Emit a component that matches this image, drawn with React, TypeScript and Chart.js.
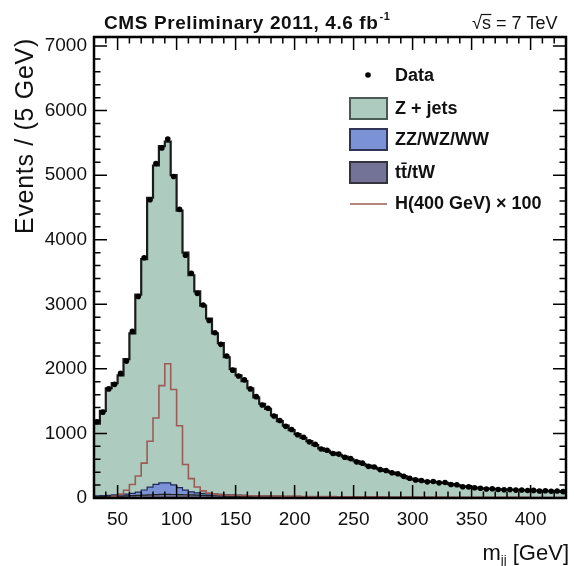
import React, { useEffect, useRef } from "react";
import { Chart, registerables } from "chart.js";

Chart.register(...registerables);

// ---- categories: 5 GeV bins from 30 to 430 GeV ----
const binEdges: number[] = Array.from({ length: 81 }, (_, i) => 30 + 5 * i);
const binCenters: number[] = binEdges.slice(0, 80).map((e) => e + 2.5);

// ---- series (events per 5 GeV bin) ----
const ttbarTW: number[] = [
  20, 22, 25, 28, 30, 33, 36, 40, 44, 48,
  52, 55, 55, 54, 52, 50, 47, 44, 41, 38,
  35, 32, 30, 28, 26, 24, 22, 20, 19, 18,
  17, 16, 15, 14, 13, 12, 11, 10, 10, 9,
  9, 8, 8, 7, 7, 6, 6, 6, 5, 5,
  5, 5, 4, 4, 4, 4, 4, 3, 3, 3,
  3, 3, 3, 3, 2, 2, 2, 2, 2, 2,
  2, 2, 2, 2, 2, 1, 1, 1, 1, 1,
];

const diboson: number[] = [
  12, 14, 16, 19, 22, 27, 35, 50, 80, 120,
  160, 180, 178, 150, 110, 72, 48, 36, 30, 27,
  25, 23, 21, 20, 19, 18, 17, 16, 15, 14,
  13, 13, 12, 12, 11, 11, 10, 10, 9, 9,
  8, 8, 8, 7, 7, 7, 6, 6, 6, 6,
  5, 5, 5, 5, 5, 4, 4, 4, 4, 4,
  4, 4, 3, 3, 3, 3, 3, 3, 3, 3,
  2, 2, 2, 2, 2, 2, 2, 2, 2, 2,
];

const zJets: number[] = [
  1118, 1314, 1659, 1733, 1848, 2090, 2479, 3060, 3576, 4482,
  4938, 5215, 5287, 4796, 4288, 3678, 3355, 3120, 2909, 2715,
  2490, 2345, 2129, 1952, 1855, 1768, 1661, 1524, 1426, 1348,
  1250, 1161, 1093, 1024, 966, 907, 859, 800, 751, 712,
  683, 654, 624, 586, 556, 517, 488, 458, 434, 409,
  385, 360, 331, 291, 276, 257, 247, 243, 233, 228,
  208, 193, 174, 164, 155, 145, 140, 135, 130, 125,
  124, 121, 118, 114, 111, 109, 107, 105, 102, 97,
];

const dataCounts: number[] = [
  1180, 1330, 1690, 1760, 1930, 2120, 2580, 3120, 3720, 4620,
  5180, 5420, 5560, 4980, 4470, 3760, 3480, 3170, 2990, 2750,
  2560, 2380, 2200, 1980, 1890, 1830, 1690, 1570, 1440, 1390,
  1270, 1200, 1110, 1060, 980, 940, 870, 830, 760, 740,
  690, 680, 630, 610, 560, 540, 490, 480, 440, 425,
  390, 375, 335, 305, 280, 270, 250, 255, 235, 240,
  210, 205, 175, 172, 158, 152, 140, 143, 132, 128,
  130, 122, 125, 115, 118, 108, 112, 104, 108, 98,
];

const higgs400x100: number[] = [
  0, 2, 8, 25, 60, 120, 210, 340, 540, 880,
  1240, 1740, 2080, 1680, 1120, 520, 300, 170, 110, 75,
  60, 52, 46, 42, 39, 37, 35, 33, 31, 30,
  29, 28, 27, 26, 25, 24, 24, 23, 22, 22,
  21, 20, 20, 19, 19, 18, 18, 17, 17, 16,
  16, 15, 15, 15, 14, 14, 14, 13, 13, 13,
  12, 12, 12, 11, 11, 11, 10, 10, 10, 10,
  9, 9, 9, 9, 8, 8, 8, 8, 7, 7,
];

// ---- tick labels ----
const xTickLabels: number[] = [50, 100, 150, 200, 250, 300, 350, 400];
const yTickLabels: number[] = [0, 1000, 2000, 3000, 4000, 5000, 6000, 7000];

const FONT = '"Liberation Sans", Arial, Helvetica, sans-serif';

const stackVV = diboson.map((v, i) => v + ttbarTW[i]);
const stackAll = zJets.map((v, i) => v + stackVV[i]);

const steps = (vals: number[]) =>
  binEdges.map((e, i) => ({ x: e, y: vals[Math.min(i, vals.length - 1)] }));

const decorPlugin = {
  id: "cmsDecor",
  afterDraw(chart: any) {
    const ctx = chart.ctx as CanvasRenderingContext2D;
    const { left, right, top, bottom } = chart.chartArea;
    const xs = chart.scales.x;
    const ys = chart.scales.y;
    ctx.save();
    ctx.strokeStyle = "#000";
    // ticks inside the frame
    ctx.lineWidth = 1.5;
    ctx.beginPath();
    for (let v = 40; v <= 420; v += 10) {
      const major = v % 50 === 0;
      const len = major ? 13 : 6.5;
      const px = xs.getPixelForValue(v);
      ctx.moveTo(px, bottom);
      ctx.lineTo(px, bottom - len);
      ctx.moveTo(px, top);
      ctx.lineTo(px, top + len);
    }
    for (let v = 200; v <= 7000; v += 200) {
      const major = v % 1000 === 0;
      const len = major ? 13 : 6.5;
      const py = ys.getPixelForValue(v);
      ctx.moveTo(left, py);
      ctx.lineTo(left + len, py);
      ctx.moveTo(right, py);
      ctx.lineTo(right - len, py);
    }
    ctx.stroke();
    // frame
    ctx.lineWidth = 2.5;
    ctx.strokeRect(left, top, right - left, bottom - top);

    // header
    ctx.fillStyle = "#111";
    ctx.textAlign = "left";
    ctx.textBaseline = "alphabetic";
    ctx.font = `bold 19px ${FONT}`;
    (ctx as any).letterSpacing = "0.6px";
    const t1 = "CMS Preliminary 2011, 4.6 fb";
    ctx.fillText(t1, 104, 28.5);
    const w1 = ctx.measureText(t1).width;
    ctx.font = `bold 11px ${FONT}`;
    ctx.fillText("-1", 104 + w1 + 1, 20);
    (ctx as any).letterSpacing = "0px";
    ctx.font = `18px ${FONT}`;
    const s1 = "√s = 7 TeV";
    ctx.fillText(s1, 472, 28.5);
    const wr = ctx.measureText("√").width;
    const ws = ctx.measureText("s").width;
    ctx.lineWidth = 1.2;
    ctx.strokeStyle = "#111";
    ctx.beginPath();
    ctx.moveTo(472 + wr - 1, 14.5);
    ctx.lineTo(472 + wr + ws + 0.5, 14.5);
    ctx.stroke();

    // y title
    ctx.save();
    ctx.translate(33, 38);
    ctx.rotate(-Math.PI / 2);
    ctx.textAlign = "right";
    ctx.font = `25px ${FONT}`;
    (ctx as any).letterSpacing = "0.7px";
    ctx.fillText("Events / (5 GeV)", 0, 0);
    (ctx as any).letterSpacing = "0px";
    ctx.restore();

    // x title
    ctx.font = `22px ${FONT}`;
    const xa = " [GeV]";
    const wA = ctx.measureText(xa).width;
    const wM = ctx.measureText("m").width;
    ctx.font = `13px ${FONT}`;
    const wJ = ctx.measureText("jj").width;
    const x0 = 569 - wA - wJ - wM;
    ctx.font = `22px ${FONT}`;
    ctx.fillText("m", x0, 560);
    ctx.fillText(xa, x0 + wM + wJ, 560);
    ctx.font = `13px ${FONT}`;
    ctx.fillText("jj", x0 + wM, 564);

    // legend
    const lx = 350, lw = 37, tx = 395;
    ctx.font = `bold 18px ${FONT}`;
    ctx.textBaseline = "middle";
    ctx.fillStyle = "#000";
    ctx.beginPath();
    ctx.arc(368, 75, 2.8, 0, Math.PI * 2);
    ctx.fill();
    ctx.fillStyle = "#111";
    ctx.fillText("Data", tx, 76);
    const boxes = [
      { y: 98, fill: "#aecbbf", stroke: "#4a5a55", label: "Z + jets" },
      { y: 129, fill: "#7b92d6", stroke: "#2e3558", label: "ZZ/WZ/WW" },
      { y: 162, fill: "#737397", stroke: "#34343f", label: "tt\u0304/tW" },
    ];
    boxes.forEach((b) => {
      ctx.fillStyle = b.fill;
      ctx.fillRect(lx, b.y, lw, 21);
      ctx.lineWidth = 2;
      ctx.strokeStyle = b.stroke;
      ctx.strokeRect(lx, b.y, lw, 21);
      ctx.fillStyle = "#111";
      ctx.fillText(b.label, tx, b.y + 11);
    });
    ctx.strokeStyle = "#b58580";
    ctx.lineWidth = 2;
    ctx.beginPath();
    ctx.moveTo(lx, 204);
    ctx.lineTo(lx + lw, 204);
    ctx.stroke();
    ctx.fillStyle = "#111";
    ctx.fillText("H(400 GeV) × 100", tx, 204);
    ctx.restore();
  },
};

export default function App() {
  const canvasRef = useRef<HTMLCanvasElement | null>(null);

  useEffect(() => {
    if (!canvasRef.current) return;
    const chart = new Chart(canvasRef.current, {
      type: "line",
      data: {
        datasets: [
          {
            label: "Data",
            data: binCenters.map((c, i) => ({ x: c, y: dataCounts[i] })),
            showLine: false,
            pointRadius: 2.8,
            pointBackgroundColor: "#000",
            pointBorderWidth: 0,
            borderColor: "#000",
          },
          {
            label: "H(400 GeV) x 100",
            data: steps(higgs400x100),
            stepped: true,
            fill: false,
            borderColor: "#9c5c55",
            borderWidth: 1.6,
            pointRadius: 0,
          },
          {
            label: "tt/tW",
            data: steps(ttbarTW),
            stepped: true,
            fill: "origin",
            backgroundColor: "#737397",
            borderColor: "#222",
            borderWidth: 1.2,
            pointRadius: 0,
          },
          {
            label: "ZZ/WZ/WW",
            data: steps(stackVV),
            stepped: true,
            fill: "origin",
            backgroundColor: "#7b92d6",
            borderColor: "#1e2a5a",
            borderWidth: 1.2,
            pointRadius: 0,
          },
          {
            label: "Z + jets",
            data: steps(stackAll),
            stepped: true,
            fill: "origin",
            backgroundColor: "#aecbbf",
            borderColor: "#1b1b1b",
            borderWidth: 2.2,
            pointRadius: 0,
          },
        ],
      },
      options: {
        animation: false,
        responsive: true,
        maintainAspectRatio: false,
        layout: { padding: { top: 37, right: 8, left: 0, bottom: 0 } },
        plugins: {
          legend: { display: false },
          tooltip: { enabled: false },
          title: { display: false },
        },
        scales: {
          x: {
            type: "linear",
            min: 30,
            max: 430,
            grid: { display: false, drawTicks: false },
            border: { display: false },
            afterBuildTicks: (s: any) => {
              s.ticks = xTickLabels.map((v) => ({ value: v }));
            },
            afterFit: (s: any) => {
              s.height = 68;
            },
            ticks: {
              autoSkip: false,
              maxRotation: 0,
              padding: 10,
              color: "#111",
              font: { family: FONT, size: 19 },
              callback: (v: any) => String(v),
            },
          },
          y: {
            type: "linear",
            min: 0,
            max: 7140,
            grid: { display: false, drawTicks: false },
            border: { display: false },
            afterBuildTicks: (s: any) => {
              s.ticks = yTickLabels.map((v) => ({ value: v }));
            },
            afterFit: (s: any) => {
              s.width = 94;
            },
            ticks: {
              autoSkip: false,
              padding: 7,
              color: "#111",
              font: { family: FONT, size: 19 },
              callback: (v: any) => String(v),
            },
          },
        },
      },
      plugins: [decorPlugin],
    });
    return () => chart.destroy();
  }, []);

  return (
    <div style={{ position: "absolute", left: 0, top: 0, width: 574, height: 566, background: "#fff" }}>
      <canvas ref={canvasRef} />
    </div>
  );
}
